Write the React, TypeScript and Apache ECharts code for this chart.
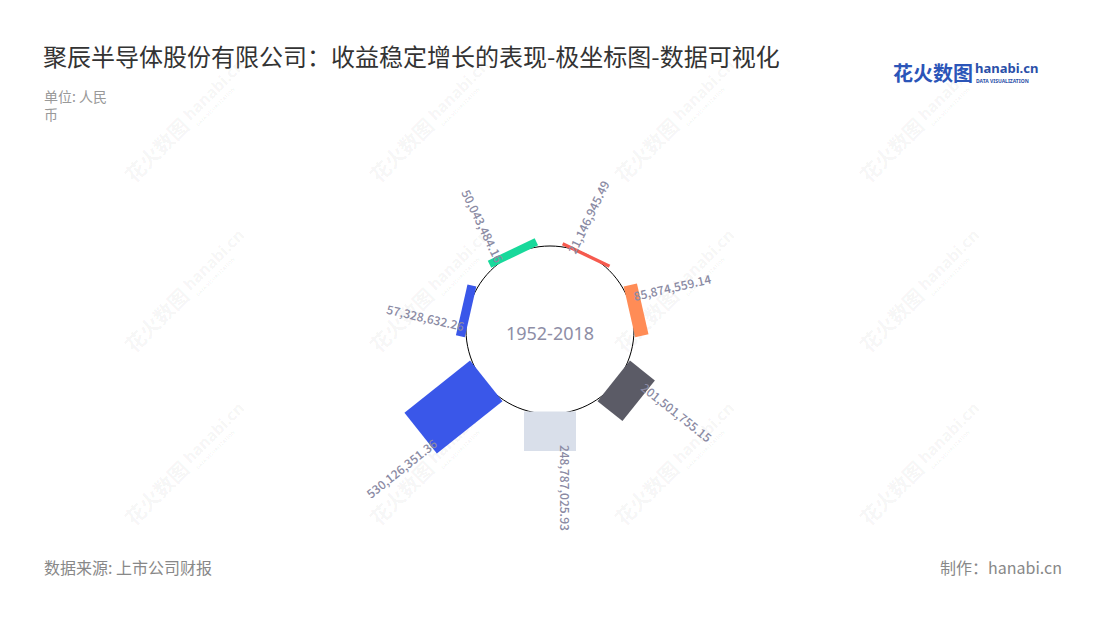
import React, { useEffect, useRef } from 'react';
import * as echarts from 'echarts';

const titleText = '聚辰半导体股份有限公司：收益稳定增长的表现-极坐标图-数据可视化';
const unitLines = ['单位: 人民', '币'];
const sourceText = '数据来源: 上市公司财报';
const makerText = '制作：hanabi.cn';
const centerText = '1952-2018';

const categories = ['1', '2', '3', '4', '5', '6', '7'];
const values = [
  21146945.49, 85874559.14, 201501755.15, 248787025.93, 530126351.36, 57328632.26, 50043484.16,
];
const barColors = ['#f65a4e', '#ff8c56', '#5b5b66', '#d9dfea', '#3a57e9', '#3a57e9', '#18d99b'];
const radiusMax = 600000000;

const fmt = (v: number) =>
  v.toLocaleString('en-US', { minimumFractionDigits: 2, maximumFractionDigits: 2 });

const CX = 550;
const CY = 330;
const R0 = 84;
const R1 = 179;
const HALF_W = 26;
const LABEL_COLOR = '#8a8aa3';
const CJK = '"Noto Sans CJK SC", "Noto Sans", sans-serif';

export default function App() {
  const ref = useRef<HTMLDivElement>(null);
  useEffect(() => {
    if (!ref.current) return;
    const chart = echarts.init(ref.current, undefined, { renderer: 'svg' });

    const watermarks: any[] = [];
    const wxs = [135, 380, 625, 870];
    const wys = [185, 355, 528];
    const wmFill = 'rgba(0,0,0,0.05)';
    wxs.forEach((x) =>
      wys.forEach((y) => {
        watermarks.push({
          type: 'group',
          x,
          y,
          rotation: Math.PI / 4,
          silent: true,
          z: 0,
          children: [
            {
              type: 'text',
              x: 0,
              y: 0,
              style: {
                text: '花火数图',
                font: 'bold 20px "Noto Sans CJK SC"',
                fill: wmFill,
                verticalAlign: 'bottom',
              },
            },
            {
              type: 'text',
              x: 84,
              y: -4,
              style: {
                text: 'hanabi.cn',
                font: 'bold 16px "Noto Sans"',
                fill: wmFill,
                verticalAlign: 'bottom',
              },
            },
            {
              type: 'text',
              x: 86,
              y: 4,
              style: {
                text: 'DATA VISUALIZATION',
                font: 'bold 5px "Noto Sans"',
                fill: wmFill,
                verticalAlign: 'bottom',
              },
            },
          ],
        });
      })
    );

    const option: any = {
      animation: false,
      backgroundColor: '#ffffff',
      polar: { center: [CX, CY], radius: [R0, R1] },
      angleAxis: {
        type: 'category',
        data: categories,
        startAngle: 90,
        clockwise: true,
        show: false,
      },
      radiusAxis: { type: 'value', min: 0, max: radiusMax, show: false },
      graphic: [
        ...watermarks,
        {
          type: 'text',
          x: 43,
          y: 55,
          style: {
            text: titleText,
            font: '24px ' + CJK,
            fill: '#333333',
            verticalAlign: 'middle',
          },
        },
        {
          type: 'circle',
          z: 1,
          shape: { cx: CX, cy: CY, r: R0 },
          style: { fill: 'none', stroke: '#000000', lineWidth: 1 },
        },
        {
          type: 'text',
          z: 5,
          x: CX,
          y: CY + 3,
          style: {
            text: centerText,
            font: '18px "Noto Sans", sans-serif',
            fill: '#8e8ea6',
            align: 'center',
            verticalAlign: 'middle',
          },
        },
        {
          type: 'text',
          x: 44,
          y: 96,
          style: {
            text: unitLines[0],
            font: '14px ' + CJK,
            fill: '#999999',
            verticalAlign: 'middle',
          },
        },
        {
          type: 'text',
          x: 44,
          y: 114,
          style: {
            text: unitLines[1],
            font: '14px ' + CJK,
            fill: '#999999',
            verticalAlign: 'middle',
          },
        },
        {
          type: 'text',
          x: 44,
          y: 567,
          style: {
            text: sourceText,
            font: '16px ' + CJK,
            fill: '#888888',
            verticalAlign: 'middle',
          },
        },
        {
          type: 'text',
          x: 1062,
          y: 567,
          style: {
            text: makerText,
            font: '16px ' + CJK,
            fill: '#888888',
            align: 'right',
            verticalAlign: 'middle',
          },
        },
        {
          type: 'text',
          x: 893,
          y: 72,
          style: {
            text: '花火数图',
            font: 'bold 20px ' + CJK,
            fill: '#2b55b8',
            verticalAlign: 'middle',
          },
        },
        {
          type: 'text',
          x: 975,
          y: 68,
          style: {
            text: 'hanabi.cn',
            font: 'bold 13px "Noto Sans", sans-serif',
            fill: '#2a4fa8',
            verticalAlign: 'middle',
          },
        },
        {
          type: 'text',
          x: 976,
          y: 81,
          style: {
            text: 'DATA VISUALIZATION',
            font: 'bold 5px "Noto Sans", sans-serif',
            fill: '#2a4fa8',
            verticalAlign: 'middle',
          },
        },
      ],
      series: [
        {
          type: 'custom',
          coordinateSystem: 'polar',
          z: 2,
          encode: { radius: 0, angle: 1 },
          data: values.map((v, i) => [v, i]),
          renderItem: (params: any, api: any) => {
            const cs = params.coordSys;
            const cx = cs.cx;
            const cy = cs.cy;
            const val = api.value(0);
            const idx = api.value(1);
            const p0 = api.coord([0, idx]);
            const p1 = api.coord([val, idx]);
            const len0 = Math.hypot(p0[0] - cx, p0[1] - cy);
            const ux = (p0[0] - cx) / len0;
            const uy = (p0[1] - cy) / len0;
            const nx = uy;
            const ny = -ux;
            const L = Math.hypot(p1[0] - p0[0], p1[1] - p0[1]);
            const d = len0 - 2.5;
            const pt = (a: number, b: number) => [cx + ux * a + nx * b, cy + uy * a + ny * b];
            const poly = [pt(d, -HALF_W), pt(d, HALF_W), pt(d + L, HALF_W), pt(d + L, -HALF_W)];
            const theta = Math.atan2(-uy, ux);
            const rightSide = Math.cos(theta) >= -0.01;
            const anchor = pt(d + L - 6, 15);
            return {
              type: 'group',
              children: [
                {
                  type: 'polygon',
                  shape: { points: poly },
                  style: { fill: barColors[params.dataIndex] },
                },
                {
                  type: 'text',
                  x: anchor[0],
                  y: anchor[1],
                  rotation: rightSide ? theta : theta - Math.PI,
                  z2: 10,
                  style: {
                    text: fmt(values[params.dataIndex]),
                    font: '500 12px "Noto Sans CJK SC", sans-serif',
                    fill: LABEL_COLOR,
                    align: rightSide ? 'left' : 'right',
                    verticalAlign: 'middle',
                  },
                },
              ],
            };
          },
        },
      ],
    };
    chart.setOption(option);
    return () => chart.dispose();
  }, []);
  return (
    <div
      ref={ref}
      style={{ position: 'absolute', left: 0, top: 0, width: 1100, height: 620 }}
    />
  );
}
